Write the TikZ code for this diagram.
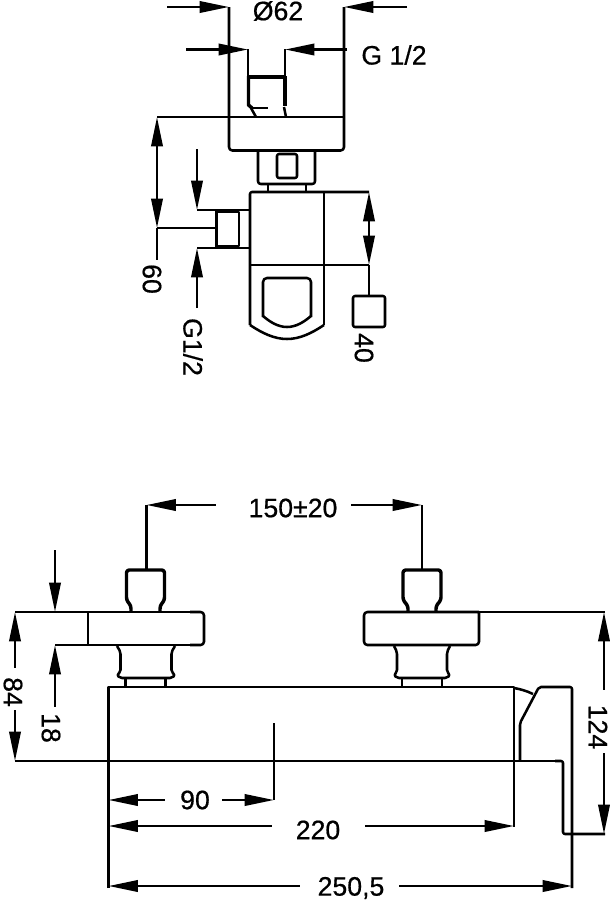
\documentclass[tikz,border=0pt]{standalone}
\usepackage{fontspec}
\newfontfamily\dimfont{Liberation Sans}[FakeBold=0.6]
\usetikzlibrary{arrows.meta}
\tikzset{
  part/.style={line width=1.9pt,line join=round},
  heavy/.style={line width=2.6pt,line join=round},
  dimline/.style={line width=1.9pt,arrows={-Triangle[length=22pt,width=8.5pt]}},
  dimtip/.style={line width=1.9pt,arrows={Triangle[length=22pt,width=8.5pt]-}},
  label/.style={font=\fontsize{20}{22}\selectfont\dimfont,inner sep=0pt},
  vlabel/.style={label,rotate=-90}
}
\begin{document}
\begin{tikzpicture}[x=.75pt,y=-.75pt]
\useasboundingbox (0,0) rectangle (610,900);
\fill[white] (0,0) rectangle (610,900);
% ---- top view ----
\draw[part,rounded corners=2.5pt] (229,7) -- (229,150.5) -- (344,150.5) -- (344,7);
\draw[part] (157,117) -- (344,117);
\draw[part] (248,49) -- (248,78);
\draw[heavy] (248.5,76) -- (248.5,105) -- (252,108);
\draw[part] (251,108) -- (268,108);
\draw[part] (251,108) -- (256,117);
\draw[heavy] (285,76) -- (285,106);
\draw[part] (285,49) -- (285,78);
\draw[part] (284,107) -- (286,117);
\draw[heavy] (247,77) -- (286,77);
\draw[part,rounded corners=2pt] (258,151) -- (258,184) -- (315,184) -- (315,151);
\draw[part,rounded corners=1.5pt] (277,154) rectangle (297,178);
\draw[part] (268,184) -- (268,192) (306,184) -- (306,192);
\draw[part,rounded corners=1.5pt] (250,325) -- (250,192) -- (369,192);
\draw[part] (250,265) -- (369,265);
\draw[part] (324,192) -- (324,325);
\draw[part] (250,325) .. controls (262,333) and (274,339) .. (287,339) .. controls (300,339) and (312,333) .. (324,325);
\draw[part,rounded corners=3pt] (263,317) -- (263,278) -- (311,278) -- (311,317);
\draw[part] (263,316) .. controls (270,322) and (278,327) .. (287,327) .. controls (296,327) and (304,322) .. (311,316);
\draw[part] (197,210) -- (250,210) (197,248) -- (250,248);
\draw[part] (157,228) -- (216,228);
\draw[heavy] (216.5,210) -- (216.5,248);
\draw[part] (216,212) rectangle (239,246);
\draw[part,rounded corners=1.5pt] (353,296) rectangle (385,327);
% dimensions, top view
\draw[dimline] (167,7) -- (229,7);
\draw[dimline] (407,7) -- (344,7);
\draw[dimline] (186,49.5) -- (248,49.5);
\draw[dimline] (347,49.5) -- (285,49.5);
\draw[dimtip] (157,117) -- (157,170);
\draw[dimline] (157,170) -- (157,228);
\draw[part] (157,228) -- (157,260);
\draw[dimline] (197,149) -- (197,210);
\draw[dimline] (197,308) -- (197,248);
\draw[dimtip] (369,192) -- (369,230);
\draw[dimline] (369,228) -- (369,265);
\draw[part] (369,265) -- (369,296);
\node[label] (dia) at (278,11) {Ø62};
\node[label] (thread) at (394,55) {G 1/2};
\node[vlabel] (sixty) at (152,279) {60};
\node[vlabel] (inlet) at (193,347) {G1/2};
\node[vlabel] (forty) at (364,348) {40};
% ---- front view ----
% left valve
\draw[heavy,rounded corners=2pt] (131,612) -- (131,606) -- (126.5,600) -- (126.5,570) -- (164.5,570) -- (164.5,600) -- (160,606) -- (160,612);
\draw[part] (15,612) -- (200,612);
\draw[part,rounded corners=2.5pt] (190,612) -- (204,612) -- (204,645) -- (190,645);
\draw[part] (55,645) -- (200,645);
\draw[part] (88,612) -- (88,645);
\draw[part,rounded corners=1.5pt] (117,646) -- (120.5,652) -- (120.5,672) -- (117,675) -- (120,678) -- (172,678) -- (175,675) -- (171.5,672) -- (171.5,652) -- (175,646);
\draw[part] (125.5,678) -- (125.5,687) (165.5,678) -- (165.5,687);
% right valve
\draw[heavy,rounded corners=2pt] (408,612) -- (408,606) -- (403,600) -- (403,570) -- (441,570) -- (441,600) -- (436,606) -- (436,612);
\draw[part,rounded corners=2.5pt] (479,612) -- (364,612) -- (364,645) -- (479,645) -- (479,612);
\draw[part] (479,612) -- (605,612);
\draw[part,rounded corners=1.5pt] (394,646) -- (397,652) -- (397,672) -- (394,675) -- (397,678) -- (447,678) -- (450,675) -- (447,672) -- (447,652) -- (450,646);
\draw[part] (402,678) -- (402,687) (442,678) -- (442,687);
% body
\draw[part] (108.5,888) -- (108.5,687) -- (514,687) -- (514,827);
\draw[part] (15,761) -- (560,761);
\draw[part,rounded corners=1.5pt] (555,761) -- (563,761) -- (563,834) -- (605,834);
% lever
\draw[part,rounded corners=1.5pt] (572,888) -- (572,687) -- (539,687) -- (520,723) -- (520,760);
\draw[part] (514,688) .. controls (520,689) and (527,691) .. (533,694);
% dimensions, front view
\draw[part] (146.5,505) -- (146.5,570);
\draw[part] (422,505) -- (422,570);
\draw[dimtip] (146.5,505) -- (216,505);
\draw[dimline] (351,505) -- (422,505);
\draw[dimline] (55,550) -- (55,612);
\draw[dimtip] (55,645) -- (55,707);
\draw[dimtip] (15,612) -- (15,668);
\draw[dimline] (15,710) -- (15,761);
\draw[dimtip] (604,612) -- (604,690);
\draw[dimline] (604,753) -- (604,834);
\draw[part] (274,723) -- (274,800);
\draw[dimtip] (108.5,800) -- (165,800);
\draw[dimline] (222,800) -- (274,800);
\draw[dimtip] (108.5,826) -- (272,826);
\draw[dimline] (365,826) -- (514,826);
\draw[dimtip] (108.5,886) -- (300,886);
\draw[dimline] (399,886) -- (572,886);
\node[label] (spacing) at (293,508) {150±20};
\node[vlabel] (eightyfour) at (13,692) {84};
\node[vlabel] (eighteen) at (51,728) {18};
\node[vlabel] (onetwofour) at (598,727) {124};
\node[label] (ninety) at (195,800) {90};
\node[label] (twotwenty) at (318,830) {220};
\node[label] (overall) at (351,888) {250,5};
\end{tikzpicture}
\end{document}
